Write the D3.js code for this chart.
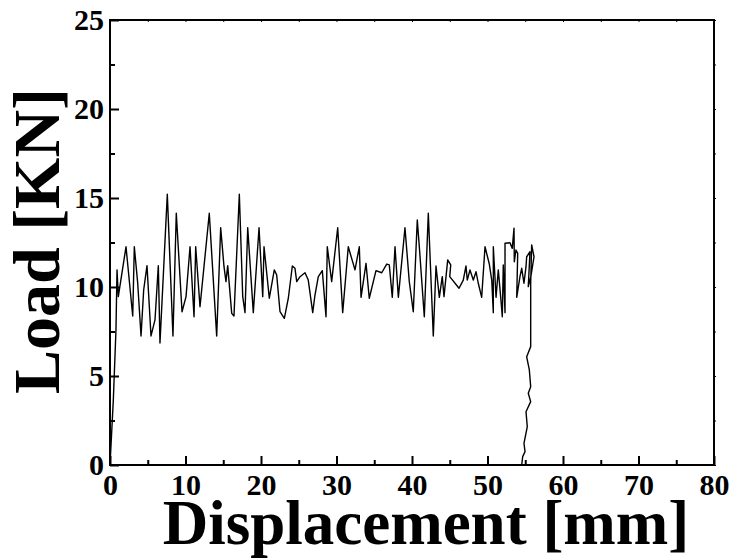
<!DOCTYPE html>
<html>
<head>
<meta charset="utf-8">
<script src="https://cdn.jsdelivr.net/npm/d3@7"></script>
<style>
  html, body { margin: 0; padding: 0; background: #fff; }
  svg { display: block; }
  text { font-family: "Liberation Serif", "Times New Roman", serif; font-weight: bold; fill: #000; }
</style>
</head>
<body>
<svg id="chart" width="732" height="560"></svg>
<script>
// Displacement [mm]
const displacement = [
  0, 0.44, 0.79, 0.93, 1.10, 2.12, 3.01, 3.22, 3.67, 4.11, 4.46, 4.90, 5.43, 5.96, 6.40, 6.62,
  7.59, 8.34, 8.78, 9.54, 10.07, 10.60, 11.13, 11.35, 11.92, 13.15, 14.13, 14.66, 15.10, 15.36,
  15.59, 16.12, 16.42, 17.13, 17.58, 17.88, 18.24, 18.98, 19.74, 20.23, 20.40, 21.10, 21.76,
  22.08, 22.52, 23.09, 23.62, 24.15, 24.50, 24.73, 25.17, 25.83, 26.26, 26.85, 27.15, 27.59,
  28.12, 28.61, 28.78, 29.36, 30.16, 30.82, 31.56, 32.45, 33.02, 33.25, 33.91, 34.34, 35.23,
  35.99, 36.65, 36.99, 37.39, 37.75, 38.19, 39.07, 39.64, 40.17, 40.70, 40.97, 41.63, 42.16,
  42.82, 43.18, 43.62, 44.01, 44.24, 44.73, 45.13, 45.00, 46.23, 46.79, 47.15, 47.32, 47.68,
  48.12, 48.48, 48.78, 49.23, 49.67, 50.24, 50.56, 50.77, 50.77, 51.13, 51.43, 51.75, 51.96,
  52.09, 52.32, 52.32, 52.98, 53.28, 53.51, 53.55, 53.77, 54.00, 53.87, 54.30, 54.53, 54.83,
  55.10, 55.19, 55.63, 55.40, 55.76, 56.16, 55.85, 55.72, 55.72, 55.19, 55.54, 55.72, 55.40,
  55.72, 55.10, 55.27, 54.83, 54.97, 54.66, 54.53
];
// Load [KN]
const load = [
  0, 3.65, 7.58, 10.96, 9.46, 12.26, 8.37, 12.26, 10.21, 7.25, 9.83, 11.20, 7.25, 8.15, 11.20, 6.85,
  15.21, 7.25, 14.14, 8.61, 9.46, 12.26, 8.33, 12.26, 8.89, 14.14, 7.25, 13.33, 11.14, 10.30,
  11.20, 8.52, 8.37, 15.21, 9.46, 8.56, 13.33, 8.56, 13.33, 9.46, 12.26, 9.37, 10.96,
  10.67, 8.61, 8.24, 9.37, 11.18, 11.05, 10.30, 10.58, 10.80, 10.39, 8.56, 9.55, 10.58,
  10.92, 8.33, 12.26, 10.30, 13.33, 8.56, 12.26, 10.96, 12.26, 9.42, 11.33, 9.37, 10.92,
  10.80, 11.29, 11.24, 9.42, 12.26, 9.42, 13.33, 10.30, 8.61, 13.76, 12.26, 8.33, 14.14,
  7.25, 11.18, 9.42, 10.58, 9.46, 11.52, 11.24, 10.58, 9.93, 10.39, 11.18, 10.39, 10.96,
  10.39, 10.86, 10.21, 9.42, 12.26, 11.29, 10.39, 8.56, 12.26, 9.42, 10.96, 9.42, 8.33,
  11.24, 8.56, 12.46, 12.49, 12.17, 13.30, 11.42, 12.08, 11.89, 9.42, 10.58, 11.05, 10.21,
  11.14, 11.70, 11.98, 10.02, 10.62, 11.70, 12.36, 10.22, 6.65, 6.08, 5.34, 4.40, 4.03,
  3.56, 2.99, 2.15, 1.22, 0.75, 0.47, 0
];
const xTicks = [0, 10, 20, 30, 40, 50, 60, 70, 80];
const yTicks = [0, 5, 10, 15, 20, 25];
const xMinor = [5, 15, 25, 35, 45, 55, 65, 75];
const yMinor = [2.5, 7.5, 12.5, 17.5, 22.5];
const xTitle = "Displacement [mm]";
const yTitle = "Load [KN]";

const svg = d3.select("#chart");
const m = { left: 110, right: 714, top: 20, bottom: 465 };
const x = d3.scaleLinear().domain([0, 80]).range([m.left, m.right]);
const y = d3.scaleLinear().domain([0, 25]).range([m.bottom, m.top]);

const data = displacement.map((d, i) => [d, load[i]]);

// data line
svg.append("path")
  .datum(data)
  .attr("fill", "none")
  .attr("stroke", "#000")
  .attr("stroke-width", 1.4)
  .attr("stroke-linejoin", "round")
  .attr("d", d3.line().x(d => x(d[0])).y(d => y(d[1])));

// frame
svg.append("rect")
  .attr("x", m.left).attr("y", m.top)
  .attr("width", m.right - m.left).attr("height", m.bottom - m.top)
  .attr("fill", "none").attr("stroke", "#000").attr("stroke-width", 2);

function styleLabels(sel) {
  sel.selectAll("text")
    .attr("font-size", 30)
    .style("font-family", "'Liberation Serif', 'Times New Roman', serif")
    .style("font-weight", "bold")
    .attr("fill", "#000");
}

// bottom axis (ticks inside)
const xAxis = svg.append("g").attr("transform", `translate(0,${m.bottom})`)
  .call(d3.axisBottom(x).tickValues(xTicks).tickSizeInner(-9).tickSizeOuter(0).tickPadding(9));
xAxis.select(".domain").remove();
xAxis.selectAll(".tick line").attr("stroke-width", 2);
styleLabels(xAxis);
svg.append("g").attr("transform", `translate(0,${m.bottom})`)
  .call(d3.axisBottom(x).tickValues(xMinor).tickSizeInner(-5).tickSizeOuter(0).tickFormat(""))
  .call(g => g.select(".domain").remove())
  .selectAll(".tick line").attr("stroke-width", 2);

// left axis
const yAxis = svg.append("g").attr("transform", `translate(${m.left},0)`)
  .call(d3.axisLeft(y).tickValues(yTicks).tickSizeInner(-9).tickSizeOuter(0).tickPadding(6));
yAxis.select(".domain").remove();
yAxis.selectAll(".tick line").attr("stroke-width", 2);
styleLabels(yAxis);
svg.append("g").attr("transform", `translate(${m.left},0)`)
  .call(d3.axisLeft(y).tickValues(yMinor).tickSizeInner(-5).tickSizeOuter(0).tickFormat(""))
  .call(g => g.select(".domain").remove())
  .selectAll(".tick line").attr("stroke-width", 2);

// tiny ticks on top and right
svg.append("g").attr("transform", `translate(0,${m.top})`)
  .call(d3.axisBottom(x).tickValues(xTicks.concat(xMinor)).tickSizeInner(2).tickSizeOuter(0).tickFormat(""))
  .call(g => g.select(".domain").remove())
  .selectAll(".tick line").attr("stroke-width", 1);
svg.append("g").attr("transform", `translate(${m.right},0)`)
  .call(d3.axisRight(y).tickValues(yTicks.concat(yMinor)).tickSizeInner(2).tickSizeOuter(0).tickFormat(""))
  .call(g => g.select(".domain").remove())
  .selectAll(".tick line").attr("stroke-width", 1);

// titles
svg.append("text")
  .attr("x", 426).attr("y", 544)
  .attr("text-anchor", "middle")
  .attr("font-size", 63)
  .text(xTitle);
svg.append("text")
  .attr("transform", "translate(59,241) rotate(-90)")
  .attr("text-anchor", "middle")
  .attr("font-size", 66)
  .text(yTitle);
</script>
</body>
</html>
